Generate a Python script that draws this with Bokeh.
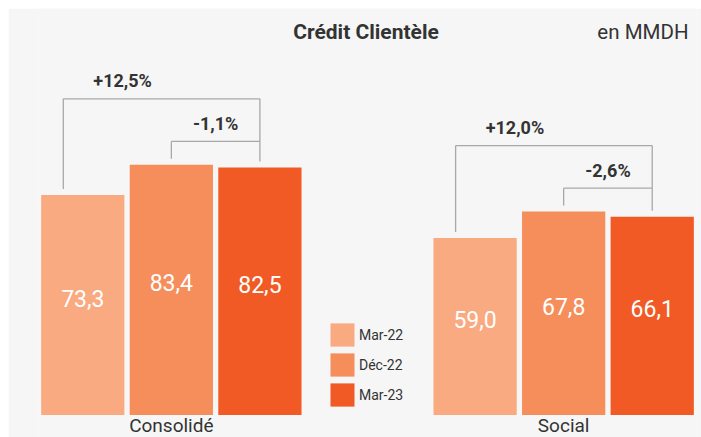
from bokeh.plotting import figure
from bokeh.models import ColumnDataSource, FactorRange, Range1d, Label, Legend
from bokeh.embed import file_html
from bokeh.resources import INLINE
from bokeh.core.properties import value

# ---- data ----
groups = ["Consolidé", "Social"]
periods = ["Mar-22", "Déc-22", "Mar-23"]
mar22 = [73.3, 59.0]
dec22 = [83.4, 67.8]
mar23 = [82.5, 66.1]
yoy_labels = ["+12,5%", "+12,0%"]
ytd_labels = ["-1,1%", "-2,6%"]
title_text = "Crédit Clientèle"
unit_text = "en MMDH"

# ---- style ----
colors = ["#F9AA80", "#F58E5B", "#F15A24"]
BG = "#f6f6f6"
FONT = "Roboto"
TEXT = "#333333"
LINE = "#a8a8a8"

factors = [(g, s) for g in groups for s in periods]
p = figure(width=693, height=429,
           x_range=FactorRange(*factors, group_padding=1.43, range_padding=0),
           y_range=Range1d(-7.5, 135.5),
           output_backend="svg", toolbar_location=None, tools="",
           x_axis_location=None, y_axis_location=None,
           min_border_left=30, min_border_right=5, min_border_top=0, min_border_bottom=0)
p.margin = (8, 0, 0, 8)
p.background_fill_color = BG
p.border_fill_color = BG
p.outline_line_color = None
p.xgrid.visible = False
p.ygrid.visible = False

series = [mar22, dec22, mar23]
items = []
for s, vals, c in zip(periods, series, colors):
    src = ColumnDataSource(dict(x=[(g, s) for g in groups], top=vals))
    r = p.vbar(x="x", top="top", width=0.94, source=src, fill_color=c, line_color=None)
    items.append((s, [r]))

# value labels inside bars
lx, ly, lt = [], [], []
for s, vals in zip(periods, series):
    for g, v in zip(groups, vals):
        lx.append((g, s)); ly.append(v / 2); lt.append(f"{v:.1f}".replace(".", ","))
p.text(x="x", y="y", text="t", source=ColumnDataSource(dict(x=lx, y=ly, t=lt)),
       text_align="center", text_baseline="middle", text_color="white",
       text_font=value(FONT), text_font_size="23px", y_offset=-7)

# brackets
gap = 2.0
x0, y0, x1, y1 = [], [], [], []
px, py, pt = [], [], []
for i, g in enumerate(groups):
    v1, v2, v3 = mar22[i], dec22[i], mar23[i]
    big = max(v1, v2, v3) + 22
    small = v2 + 7.8
    a = (g, periods[0], -0.22)
    b = (g, periods[1], 0.0)
    c = (g, periods[2], 0.0)
    for (xa, ya, xb, yb) in [(a, v1 + gap, a, big), (a, big, c, big), (c, big, c, v3 + gap),
                             (b, v2 + gap, b, small), (b, small, c, small)]:
        x0.append(xa); y0.append(ya); x1.append(xb); y1.append(yb)
    px.append((g, periods[0], 0.45)); py.append(big); pt.append(yoy_labels[i])
    px.append((g, periods[1], 0.5)); py.append(small); pt.append(ytd_labels[i])

p.segment(x0="x0", y0="y0", x1="x1", y1="y1",
          source=ColumnDataSource(dict(x0=x0, y0=y0, x1=x1, y1=y1)),
          line_color=LINE, line_width=1.3)
p.text(x="x", y="y", text="t", source=ColumnDataSource(dict(x=px, y=py, t=pt)),
       text_align="center", text_baseline="middle", text_color=TEXT,
       text_font=value(FONT), text_font_size="18px", text_font_style="bold", y_offset=-18)

# group labels
p.text(x="x", y="y", text="t", source=ColumnDataSource(dict(x=groups, y=[0, 0], t=groups)),
       text_align="center", text_baseline="middle", text_color=TEXT,
       text_font=value(FONT), text_font_size="19px", y_offset=10)

# legend
legend = Legend(items=items, location=(289, 28), orientation="vertical",
                glyph_width=30, glyph_height=29, label_height=29, spacing=1,
                label_standoff=2, padding=0, margin=0,
                label_text_font=FONT, label_text_font_size="14px", label_text_color=TEXT,
                border_line_color=None, background_fill_alpha=0)
p.add_layout(legend)

# title and unit
p.add_layout(Label(x=327.5, y=406, x_units="screen", y_units="screen", text=title_text,
                   text_align="center", text_baseline="middle", text_font=FONT,
                   text_font_size="21px", text_font_style="bold", text_color=TEXT))
p.add_layout(Label(x=650, y=406, x_units="screen", y_units="screen", text=unit_text,
                   text_align="right", text_baseline="middle", text_font=FONT,
                   text_font_size="20.5px", text_color=TEXT))

open("out.html", "w").write(file_html(p, INLINE))
